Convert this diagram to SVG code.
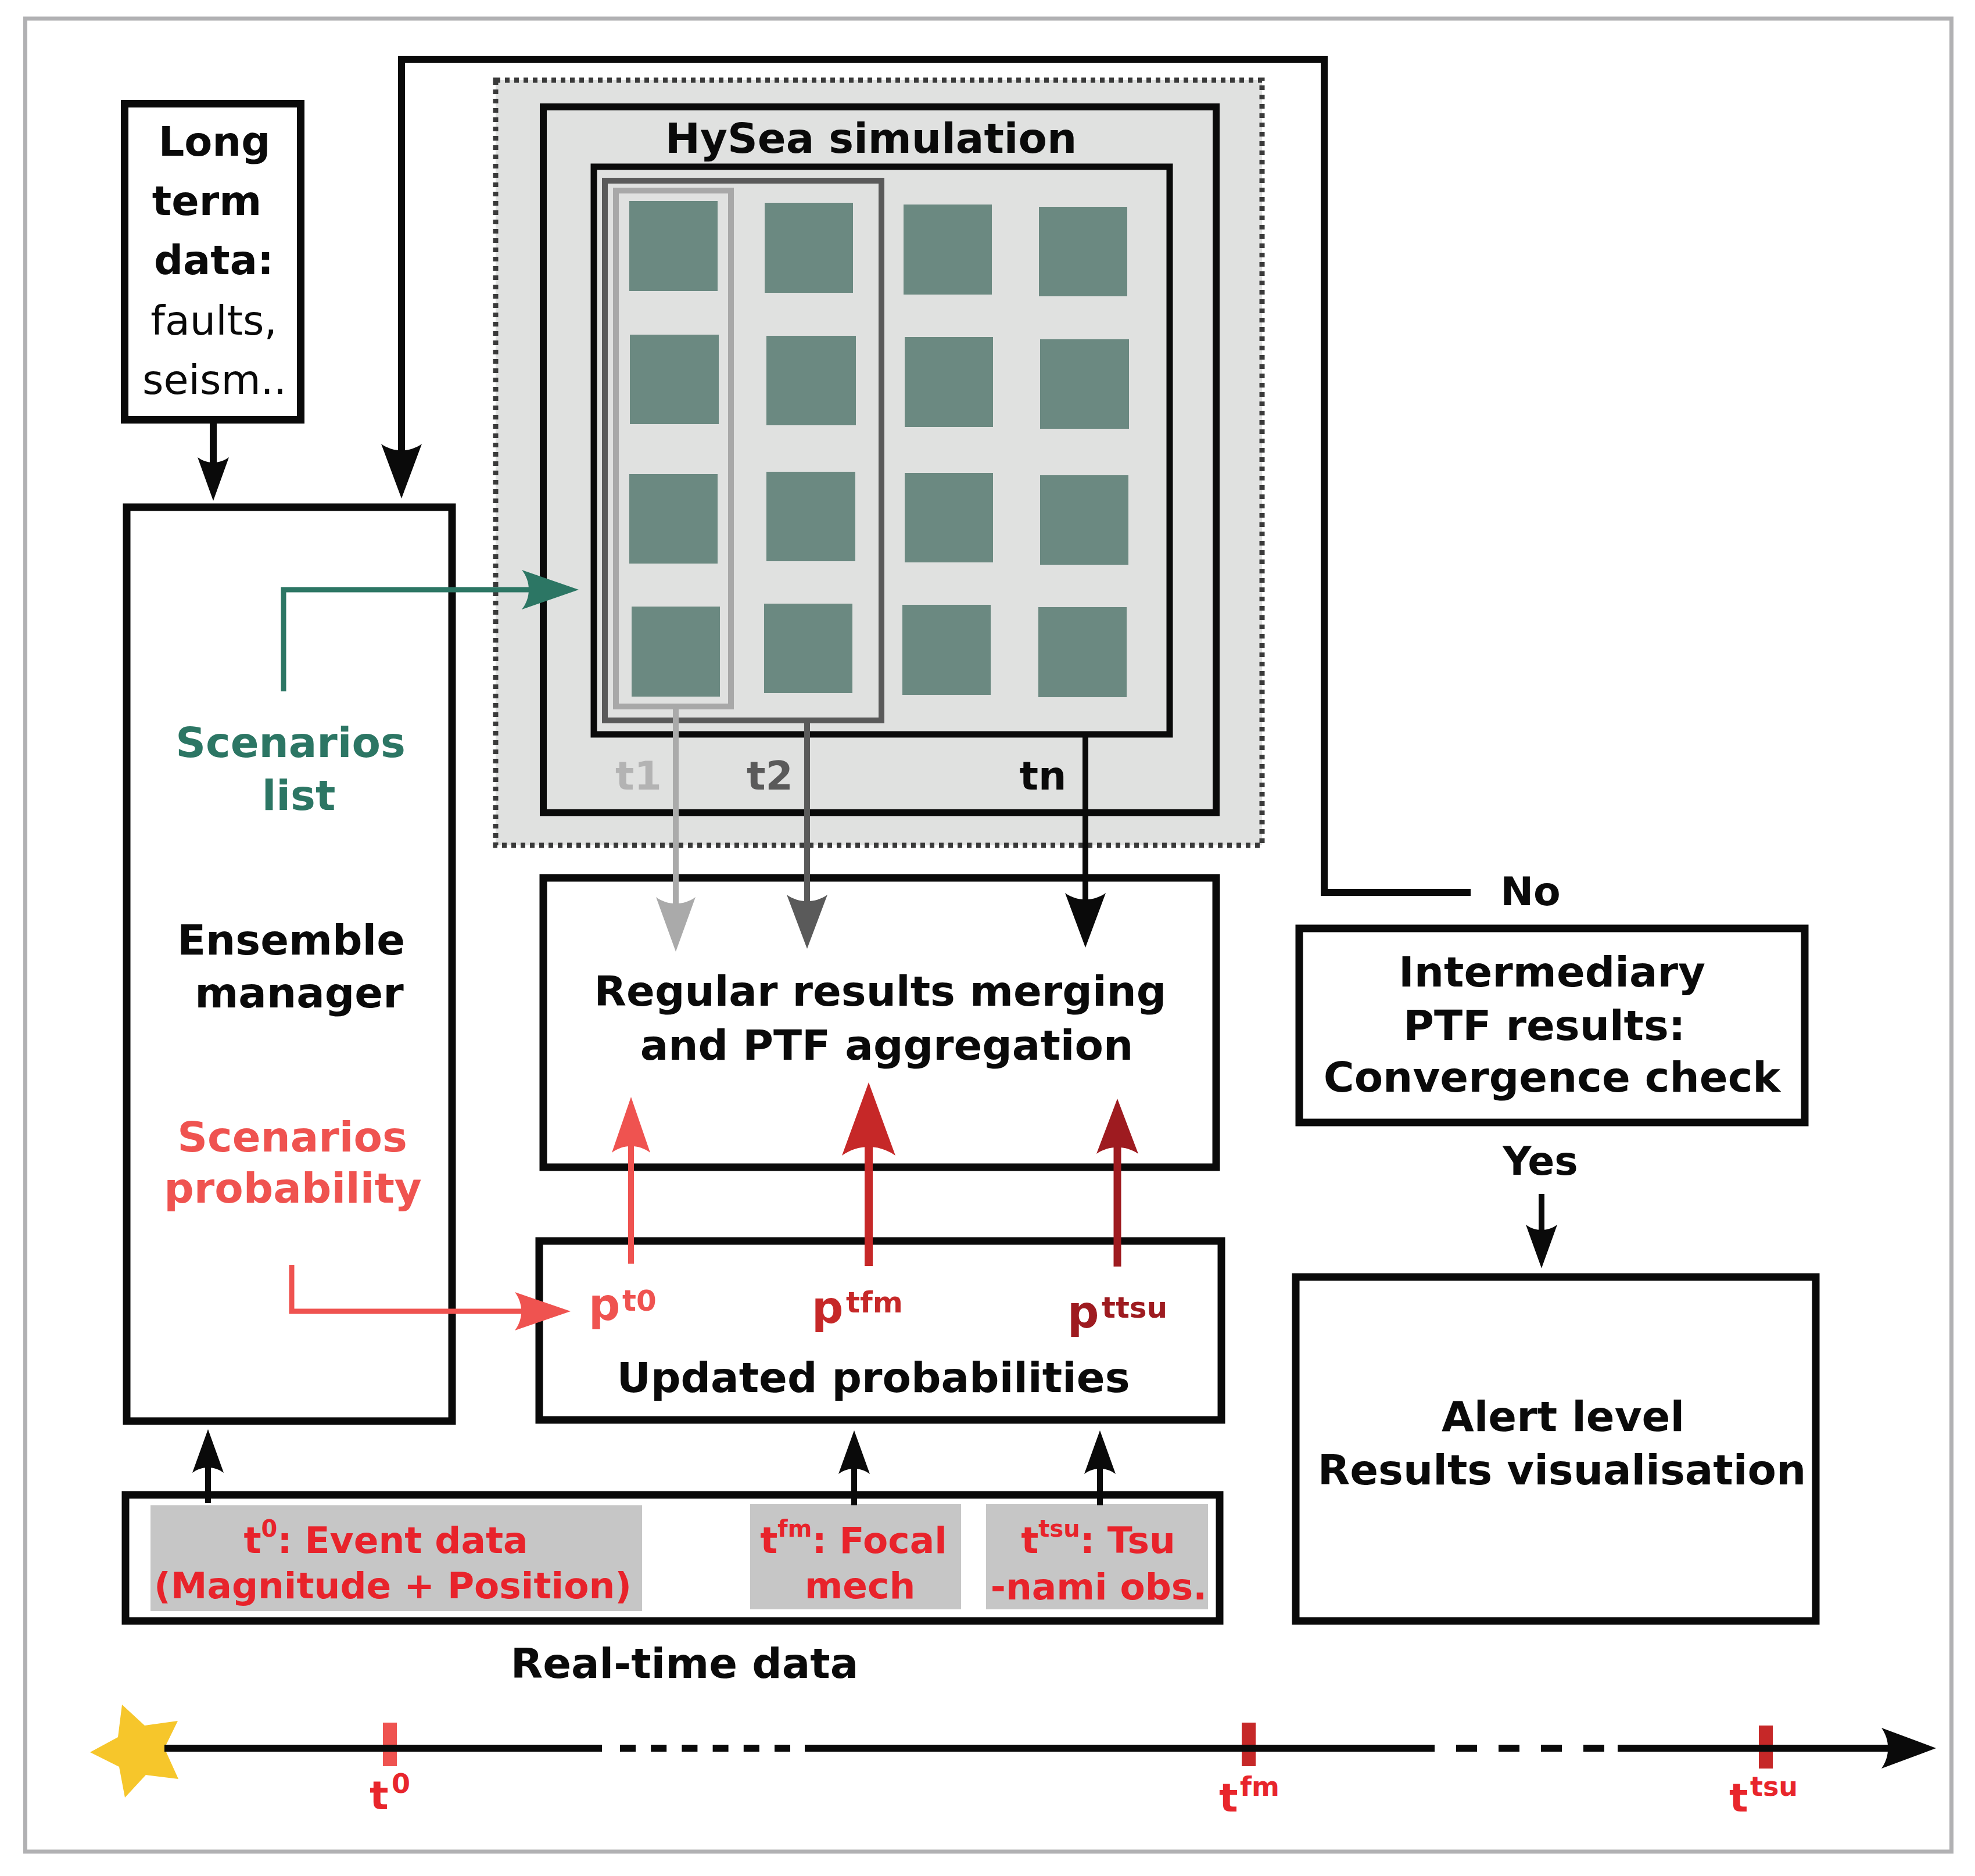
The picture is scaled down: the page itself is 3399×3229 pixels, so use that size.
<svg xmlns="http://www.w3.org/2000/svg" width="3399" height="3229" viewBox="0 0 3399 3229">
<style>
.box{fill:#fff;stroke:#0a0a0a;stroke-width:13}
.t{font-family:"DejaVu Sans","Liberation Sans",sans-serif;font-weight:bold;font-size:72px;text-anchor:middle;fill:#0a0a0a}
.n{font-weight:normal}
.sq{fill:#6b8981}
.gb{fill:#c6c6c6}
.rt{font-size:63px;fill:#e8232b}
.ln{fill:none;stroke-linejoin:miter}
</style>
<defs>
<marker id="mBlkS" viewBox="0 -27 75 54" markerWidth="75" markerHeight="54" refX="15" refY="0" orient="auto" markerUnits="userSpaceOnUse"><path d="M75,0 L0,-27 C12,-11 12,11 0,27 Z" fill="#0a0a0a"/></marker>
<marker id="mBlkM" viewBox="0 -35 94 70" markerWidth="94" markerHeight="70" refX="19" refY="0" orient="auto" markerUnits="userSpaceOnUse"><path d="M94,0 L0,-35 C15,-14 15,14 0,35 Z" fill="#0a0a0a"/></marker>
<marker id="mGrL" viewBox="0 -34 94 68" markerWidth="94" markerHeight="68" refX="19" refY="0" orient="auto" markerUnits="userSpaceOnUse"><path d="M94,0 L0,-34 C15,-14 15,14 0,34 Z" fill="#aaaaaa"/></marker>
<marker id="mGrD" viewBox="0 -35 93 70" markerWidth="93" markerHeight="70" refX="19" refY="0" orient="auto" markerUnits="userSpaceOnUse"><path d="M93,0 L0,-35 C15,-14 15,14 0,35 Z" fill="#5a5a5a"/></marker>
<marker id="mGrn" viewBox="0 -34 98 68" markerWidth="98" markerHeight="68" refX="20" refY="0" orient="auto" markerUnits="userSpaceOnUse"><path d="M98,0 L0,-34 C16,-14 16,14 0,34 Z" fill="#2c7664"/></marker>
<marker id="mRd1" viewBox="0 -33 96 66" markerWidth="96" markerHeight="66" refX="19" refY="0" orient="auto" markerUnits="userSpaceOnUse"><path d="M96,0 L0,-33 C15,-13 15,13 0,33 Z" fill="#ef5350"/></marker>
<marker id="mRd2" viewBox="0 -46 126 92" markerWidth="126" markerHeight="92" refX="25" refY="0" orient="auto" markerUnits="userSpaceOnUse"><path d="M126,0 L0,-46 C20,-18 20,18 0,46 Z" fill="#c62828"/></marker>
<marker id="mRd3" viewBox="0 -36 95 72" markerWidth="95" markerHeight="72" refX="19" refY="0" orient="auto" markerUnits="userSpaceOnUse"><path d="M95,0 L0,-36 C15,-14 15,14 0,36 Z" fill="#9e1b20"/></marker>
</defs>
<rect width="3399" height="3229" fill="#fff"/>
<rect x="43.5" y="32" width="3315" height="3155" fill="none" stroke="#b1b1b3" stroke-width="7"/>

<g id="longterm">
<rect class="box" x="214.5" y="178.5" width="303" height="544"/>
<text class="t" x="369" y="268" style="font-size:70px">Long</text>
<text class="t" x="356" y="370" style="font-size:70px">term</text>
<text class="t" x="368" y="472" style="font-size:70px">data:</text>
<text class="t n" x="368" y="576" style="font-size:70px">faults,</text>
<text class="t n" x="369" y="678" style="font-size:70px">seism..</text>
</g>

<g id="ensemble">
<rect class="box" x="218" y="873" width="560" height="1573"/>
<text class="t" x="500" y="1303" style="fill:#2c7664">Scenarios</text>
<text class="t" x="514" y="1394" style="fill:#2c7664">list</text>
<text class="t" x="501" y="1643">Ensemble</text>
<text class="t" x="515" y="1734">manager</text>
<text class="t" x="503" y="1982" style="fill:#ef5350">Scenarios</text>
<text class="t" x="504" y="2070" style="fill:#ef5350">probability</text>
</g>

<g id="hysea">
<rect x="853" y="138" width="1319" height="1317" fill="#e0e1e0" stroke="#3a3a3a" stroke-width="9" stroke-dasharray="8 8"/>
<rect x="935" y="184" width="1158" height="1215" fill="#e0e1e0" stroke="#0a0a0a" stroke-width="12"/>
<text class="t" x="1499" y="263">HySea simulation</text>
<rect x="1022" y="287" width="991" height="977" fill="#e0e1e0" stroke="#0a0a0a" stroke-width="11"/>
<rect x="1041" y="311" width="476" height="929" fill="none" stroke="#5a5a5a" stroke-width="10"/>
<rect x="1060" y="328" width="198" height="888" fill="none" stroke="#a8a8a8" stroke-width="10"/>
<g id="squares">
<rect class="sq" x="1083" y="346" width="152" height="155"/>
<rect class="sq" x="1316" y="349" width="152" height="155"/>
<rect class="sq" x="1555" y="352" width="152" height="155"/>
<rect class="sq" x="1788" y="356" width="152" height="154"/>
<rect class="sq" x="1084" y="576" width="153" height="154"/>
<rect class="sq" x="1319" y="578" width="154" height="154"/>
<rect class="sq" x="1557" y="580" width="152" height="155"/>
<rect class="sq" x="1790" y="584" width="153" height="154"/>
<rect class="sq" x="1083" y="816" width="152" height="154"/>
<rect class="sq" x="1319" y="812" width="153" height="154"/>
<rect class="sq" x="1557" y="814" width="152" height="154"/>
<rect class="sq" x="1790" y="818" width="152" height="154"/>
<rect class="sq" x="1087" y="1044" width="152" height="155"/>
<rect class="sq" x="1315" y="1039" width="152" height="154"/>
<rect class="sq" x="1553" y="1041" width="152" height="155"/>
<rect class="sq" x="1787" y="1045" width="152" height="155"/>
</g>
<text class="t" x="1099" y="1359" style="font-size:68px;fill:#b3b3b3">t1</text>
<text class="t" x="1325" y="1359" style="font-size:68px;fill:#5a5a5a">t2</text>
<text class="t" x="1795" y="1359" style="font-size:68px">tn</text>
</g>

<g id="regular">
<rect class="box" x="935" y="1511" width="1158" height="498"/>
<text class="t" x="1515" y="1731">Regular results merging</text>
<text class="t" x="1526" y="1824">and PTF aggregation</text>
</g>

<g id="updated">
<rect class="box" x="928" y="2136" width="1174" height="308"/>
<text class="t" x="1013" y="2272" style="text-anchor:start;font-size:76px;fill:#ef5350">p<tspan x="1071" y="2256" style="font-size:50px">t0</tspan></text>
<text class="t" x="1397" y="2277" style="text-anchor:start;font-size:76px;fill:#c62828">p<tspan x="1456" y="2259" style="font-size:50px">tfm</tspan></text>
<text class="t" x="1837" y="2285" style="text-anchor:start;font-size:76px;fill:#9e1b20">p<tspan x="1896" y="2268" style="font-size:50px">ttsu</tspan></text>
<text class="t" x="1503" y="2396">Updated probabilities</text>
</g>

<g id="realtime">
<rect class="box" x="216" y="2573" width="1883" height="217"/>
<rect class="gb" x="259" y="2591" width="846" height="182"/>
<rect class="gb" x="1291" y="2589" width="363" height="181"/>
<rect class="gb" x="1697" y="2589" width="382" height="181"/>
<text class="t rt" x="664" y="2673">t<tspan dy="-28" style="font-size:40px">0</tspan><tspan dy="28">: Event data</tspan></text>
<text class="t rt" x="676" y="2751">(Magnitude + Position)</text>
<text class="t rt" x="1469" y="2673">t<tspan dy="-28" style="font-size:40px">fm</tspan><tspan dy="28">: Focal</tspan></text>
<text class="t rt" x="1480" y="2751">mech</text>
<text class="t rt" x="1890" y="2673">t<tspan dy="-28" style="font-size:40px">tsu</tspan><tspan dy="28">: Tsu</tspan></text>
<text class="t rt" x="1891" y="2753">-nami obs.</text>
<text class="t" x="1178" y="2888">Real-time data</text>
</g>

<g id="intermediary">
<rect class="box" x="2236" y="1598" width="870" height="334"/>
<text class="t" x="2671" y="1698">Intermediary</text>
<text class="t" x="2658" y="1790">PTF results:</text>
<text class="t" x="2671" y="1879">Convergence check</text>
</g>

<g id="alert">
<rect class="box" x="2230" y="2198" width="895" height="592"/>
<text class="t" x="2690" y="2463">Alert level</text>
<text class="t" x="2688" y="2555">Results visualisation</text>
</g>

<g id="timeline">
<path d="M155,3016 L203,2990 L210,2934 L249,2970 L306,2962 L283,3009 L307,3062 L251,3055 L215,3094 L205,3041 Z" fill="#f6c62b"/>
<rect x="659" y="2965" width="24" height="75" fill="#ef5350"/>
<rect x="2137" y="2965" width="24" height="75" fill="#c62828"/>
<rect x="3027" y="2970" width="24" height="74" fill="#c62828"/>
<text class="t" x="636" y="3114" style="text-anchor:start;font-size:68px;fill:#e8262c">t<tspan x="674" y="3086" style="font-size:46px">0</tspan></text>
<text class="t" x="2098" y="3118" style="text-anchor:start;font-size:68px;fill:#e8262c">t<tspan x="2134" y="3091" style="font-size:46px">fm</tspan></text>
<text class="t" x="2976" y="3118" style="text-anchor:start;font-size:68px;fill:#e8262c">t<tspan x="3012" y="3091" style="font-size:46px">tsu</tspan></text>
</g>

<g id="labels">
<text class="t" x="2634" y="1558" style="font-size:68px">No</text>
<text class="t" x="2651" y="2022" style="font-size:68px">Yes</text>
</g>

<g id="connectors" class="ln">
<line x1="367" y1="727" x2="367" y2="802" stroke="#0a0a0a" stroke-width="12" marker-end="url(#mBlkS)"/>
<path d="M2531,1536 H2279 V102 H691 V783" fill="none" stroke="#0a0a0a" stroke-width="12" marker-end="url(#mBlkM)"/>
<path d="M488,1190 V1015 H918" fill="none" stroke="#2c7664" stroke-width="9" marker-end="url(#mGrn)"/>
<path d="M502,2177 V2257 H905" fill="none" stroke="#ef5350" stroke-width="9" marker-end="url(#mRd1)"/>
<line x1="1163" y1="1221" x2="1163" y2="1563" stroke="#aaaaaa" stroke-width="10" marker-end="url(#mGrL)"/>
<line x1="1389" y1="1245" x2="1389" y2="1559" stroke="#5a5a5a" stroke-width="10" marker-end="url(#mGrD)"/>
<line x1="1868" y1="1268" x2="1868" y2="1556" stroke="#0a0a0a" stroke-width="10" marker-end="url(#mBlkM)"/>
<line x1="1086" y1="2175" x2="1086" y2="1965" stroke="#ef5350" stroke-width="10" marker-end="url(#mRd1)"/>
<line x1="1495" y1="2179" x2="1495" y2="1964" stroke="#c62828" stroke-width="14" marker-end="url(#mRd2)"/>
<line x1="1923" y1="2180" x2="1923" y2="1967" stroke="#9e1b20" stroke-width="13" marker-end="url(#mRd3)"/>
<line x1="358" y1="2587" x2="358" y2="2520" stroke="#0a0a0a" stroke-width="10" marker-end="url(#mBlkS)"/>
<line x1="1470" y1="2591" x2="1470" y2="2522" stroke="#0a0a0a" stroke-width="10" marker-end="url(#mBlkS)"/>
<line x1="1893" y1="2591" x2="1893" y2="2522" stroke="#0a0a0a" stroke-width="10" marker-end="url(#mBlkS)"/>
<line x1="2653" y1="2055" x2="2653" y2="2123" stroke="#0a0a0a" stroke-width="10" marker-end="url(#mBlkS)"/>
<line x1="283" y1="3009" x2="1036" y2="3009" stroke="#0a0a0a" stroke-width="12"/>
<line x1="1067" y1="3009" x2="1360" y2="3009" stroke="#0a0a0a" stroke-width="12" stroke-dasharray="27 26.2"/>
<line x1="1385" y1="3009" x2="2469" y2="3009" stroke="#0a0a0a" stroke-width="12"/>
<line x1="2506" y1="3009" x2="2763" y2="3009" stroke="#0a0a0a" stroke-width="12" stroke-dasharray="36 37"/>
<line x1="2784" y1="3009" x2="3257" y2="3009" stroke="#0a0a0a" stroke-width="12" marker-end="url(#mBlkM)"/>
</g>
</svg>
